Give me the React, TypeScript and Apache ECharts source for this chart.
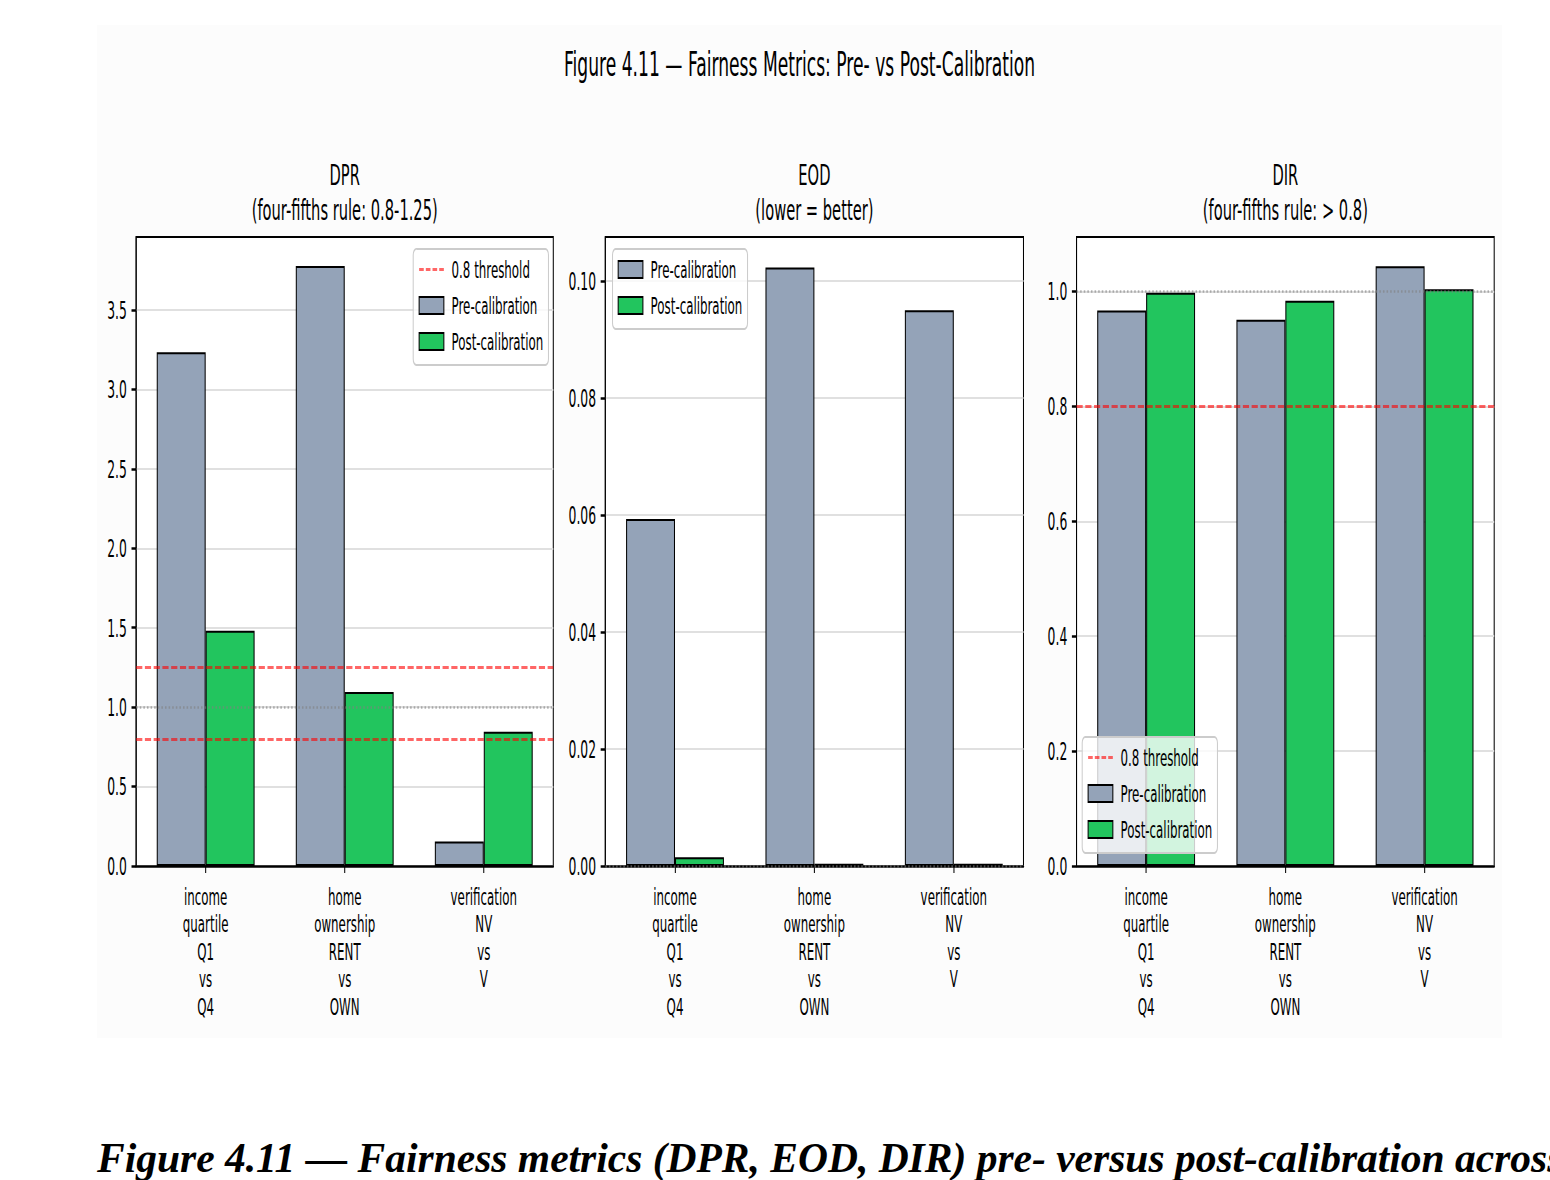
import React, { useEffect, useRef } from "react";
import * as echarts from "echarts";

const categories = [
  "income\nquartile\nQ1\nvs\nQ4",
  "home\nownership\nRENT\nvs\nOWN",
  "verification\nNV\nvs\nV",
];
const dprPre = [3.235, 3.778, 0.155];
const dprPost = [1.481, 1.095, 0.845];
const eodPre = [0.0593, 0.1023, 0.095];
const eodPost = [0.0015, 0.0004, 0.0004];
const dirPre = [0.967, 0.951, 1.044];
const dirPost = [0.998, 0.984, 1.004];
const dprTicks = [0, 0.5, 1, 1.5, 2, 2.5, 3, 3.5];
const eodTicks = [0, 0.02, 0.04, 0.06, 0.08, 0.1];
const dirTicks = [0, 0.2, 0.4, 0.6, 0.8, 1.0];
const dprThresholds = [0.8, 1.25];
const eodThresholds: number[] = [];
const dirThresholds = [0.8];
const panelTitles = [
  ["DPR", "(four-fifths rule: 0.8-1.25)"],
  ["EOD", "(lower = better)"],
  ["DIR", "(four-fifths rule: > 0.8)"],
];
const suptitle = "Figure 4.11 — Fairness Metrics: Pre- vs Post-Calibration";
const caption =
  "Figure 4.11 — Fairness metrics (DPR, EOD, DIR) pre- versus post-calibration across";

const FONT = '"DejaVu Sans", sans-serif';
const PRE = "#94a3b8";
const POST = "#22c55e";
const RED = "rgba(255,0,0,0.6)";
const GRAY = "rgba(128,128,128,0.6)";
const SX = 0.515;
const W = 2728;
const H = 1013;

const panels = [
  { pre: dprPre, post: dprPost, max: 3.96, ticks: dprTicks, interval: 0.5, dec: 1, left: 76, width: 810, red: dprThresholds, gray: 1.0, lg: { left: 614, top: 224 } },
  { pre: eodPre, post: eodPost, max: 0.1075, ticks: eodTicks, interval: 0.02, dec: 2, left: 987, width: 812, red: eodThresholds, gray: 0, lg: { left: 1001, top: 224 } },
  { pre: dirPre, post: dirPost, max: 1.095, ticks: dirTicks, interval: 0.2, dec: 1, left: 1902, width: 811, red: dirThresholds, gray: 1.0, lg: { left: 1913, top: 712 } },
];

function buildOption() {
  const grid: any[] = [];
  const xAxis: any[] = [];
  const yAxis: any[] = [];
  const series: any[] = [];
  const legend: any[] = [];
  const graphic: any[] = [];

  graphic.push({
    type: "text",
    x: W / 2,
    y: 39,
    style: { text: suptitle, font: `33.3px ${FONT}`, fill: "#000", textAlign: "center", textVerticalAlign: "middle", align: "center", verticalAlign: "middle" },
  });

  panels.forEach((p, i) => {
    grid.push({ left: p.left, top: 212, width: p.width, height: 629, show: true, backgroundColor: "#ffffff", borderColor: "#000", borderWidth: 2 });
    xAxis.push({
      type: "category",
      gridIndex: i,
      data: categories,
      axisLine: { show: true, lineStyle: { color: "#000", width: 2.5 } },
      axisTick: { show: true, alignWithLabel: true, length: 7, lineStyle: { color: "#000", width: 2 } },
      axisLabel: { fontFamily: FONT, fontSize: 23, lineHeight: 27.5, color: "#000", margin: 17 },
      splitLine: { show: false },
    });
    yAxis.push({
      type: "value",
      gridIndex: i,
      min: 0,
      max: p.max,
      interval: p.interval,
      axisLine: { show: true, lineStyle: { color: "#000", width: 2 } },
      axisTick: { show: true, length: 9, lineStyle: { color: "#000", width: 2.5 }, customValues: p.ticks },
      axisLabel: {
        fontFamily: FONT,
        fontSize: 24,
        color: "#000",
        margin: 18,
        customValues: p.ticks,
        formatter: (v: number) => v.toFixed(p.dec),
      },
      splitLine: { show: true, lineStyle: { color: "#e0e0e0", width: 2 } },
    });
    series.push({
      type: "bar",
      name: "Pre-calibration",
      xAxisIndex: i,
      yAxisIndex: i,
      data: p.pre,
      barWidth: 95,
      barGap: "0%",
      itemStyle: { color: PRE, borderColor: "#000", borderWidth: 2 },
    });
    series.push({
      type: "bar",
      name: "Post-calibration",
      xAxisIndex: i,
      yAxisIndex: i,
      data: p.post,
      barWidth: 95,
      barGap: "0%",
      itemStyle: { color: POST, borderColor: "#000", borderWidth: 2 },
    });
    const ml: any[] = p.red.map((v) => ({ yAxis: v, lineStyle: { color: RED, type: [12, 5], width: 3 } }));
    ml.push({ yAxis: p.gray, lineStyle: { color: GRAY, type: [3, 4], width: 2.5 } });
    series.push({
      type: "line",
      name: p.red.length ? "0.8 threshold" : "reference",
      xAxisIndex: i,
      yAxisIndex: i,
      data: [],
      symbol: "none",
      z: 5,
      lineStyle: { color: RED, type: [9, 4], width: 3 },
      itemStyle: { color: RED },
      markLine: { silent: true, symbol: "none", label: { show: false }, animation: false, data: ml },
    });

    const items: any[] = [];
    if (p.red.length) {
      items.push({ name: "0.8 threshold", itemStyle: { opacity: 0 }, lineStyle: { color: RED, type: [9, 4], width: 3 } });
    }
    items.push({ name: "Pre-calibration", icon: "rect", itemStyle: { color: PRE, borderColor: "#000", borderWidth: 2 } });
    items.push({ name: "Post-calibration", icon: "rect", itemStyle: { color: POST, borderColor: "#000", borderWidth: 2 } });
    legend.push({
      orient: "vertical",
      left: p.lg.left,
      top: p.lg.top,
      padding: [9, 10, 12, 10],
      itemGap: 13,
      itemWidth: 48,
      itemHeight: 17,
      backgroundColor: "rgba(255,255,255,0.8)",
      borderColor: "#cccccc",
      borderWidth: 2,
      borderRadius: 6,
      selectedMode: false,
      textStyle: { fontFamily: FONT, fontSize: 23, color: "#000", lineHeight: 23, padding: [0, 0, 0, 10] },
      data: items,
    });

    const cx = p.left + p.width / 2;
    graphic.push({
      type: "text",
      x: cx,
      y: 150,
      style: { text: panelTitles[i][0], font: `28.5px ${FONT}`, fill: "#000", textAlign: "center", textVerticalAlign: "middle", align: "center", verticalAlign: "middle" },
    });
    graphic.push({
      type: "text",
      x: cx,
      y: 185,
      style: { text: panelTitles[i][1], font: `28.5px ${FONT}`, fill: "#000", textAlign: "center", textVerticalAlign: "middle", align: "center", verticalAlign: "middle" },
    });
  });

  return { animation: false, backgroundColor: "transparent", grid, xAxis, yAxis, series, legend, graphic };
}

export default function App() {
  const ref = useRef<HTMLDivElement>(null);
  useEffect(() => {
    document.body.style.margin = "0";
    document.body.style.overflow = "hidden";
    if (!ref.current) return;
    const chart = echarts.init(ref.current, undefined, { renderer: "svg" });
    chart.setOption(buildOption() as any);
    return () => chart.dispose();
  }, []);
  return (
    <div style={{ position: "relative", width: 1550, height: 1180, overflow: "hidden", background: "#ffffff" }}>
      <div style={{ position: "absolute", left: 97, top: 25, width: 1405, height: H, overflow: "hidden", background: "#fcfcfc" }}>
        <div ref={ref} style={{ width: W, height: H, transform: `scaleX(${SX})`, transformOrigin: "0 0" }} />
      </div>
      <div
        style={{
          position: "absolute",
          left: 97,
          top: 1138,
          whiteSpace: "nowrap",
          fontFamily: '"Liberation Serif", "Times New Roman", serif',
          fontWeight: "bold",
          fontStyle: "italic",
          fontSize: 41.5,
          lineHeight: "40px",
          color: "#000",
        }}
      >
        {caption}
      </div>
    </div>
  );
}
